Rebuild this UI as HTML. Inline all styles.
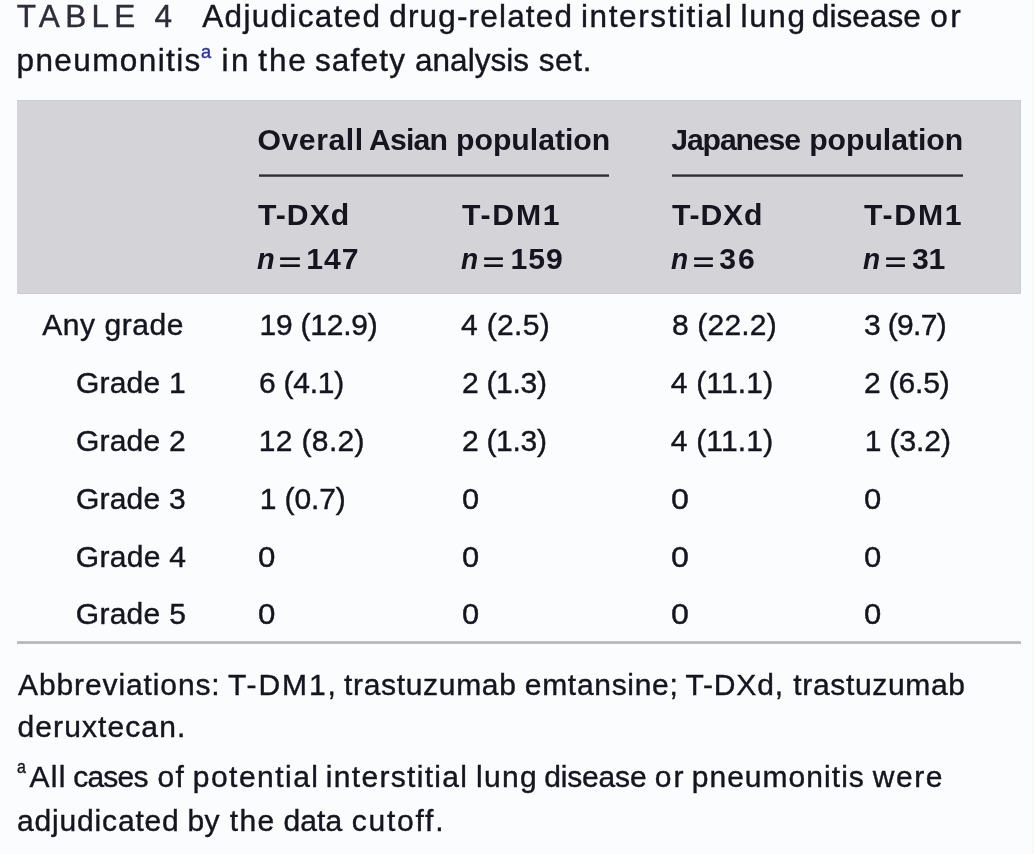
<!DOCTYPE html>
<html><head><meta charset="utf-8"><title>Table 4</title><style>
html,body{margin:0;padding:0;}
body{width:1034px;height:854px;background:#fbfcfe;position:relative;overflow:hidden;font-family:"Liberation Sans",sans-serif;color:#15141f;}
.t{position:absolute;white-space:nowrap;line-height:1;}
.r{-webkit-text-stroke:0.4px currentColor;}
.b{-webkit-text-stroke:0;}
.box{position:absolute;left:17px;top:100px;width:1004px;height:194px;background:#d3d3d8;box-shadow:inset 0 -1px 0 #c8c9cd, inset 0 1px 0 #cccdd1, inset -1px 0 0 #cbccd0;border-radius:0 0 2px 2px;}
.ln{position:absolute;top:174px;height:3px;background:linear-gradient(#6e6d74 0,#6e6d74 33%,#2f2e35 33%,#2f2e35 67%,#55545b 67%);}
.bl{position:absolute;left:17px;top:641px;width:1004px;height:3px;background:linear-gradient(#c4c5c8 0,#c4c5c8 33%,#b5b6b9 33%,#b5b6b9 67%,#bcbdc0 67%);}
.eq{position:absolute;height:3px;background:linear-gradient(#55545c 0,#55545c 20%,#121119 20%,#121119 100%);border-radius:1px;}
#wrap{position:absolute;left:0;top:0;width:1034px;height:854px;filter:blur(0.35px);}
.edge{position:absolute;left:1032px;top:0;width:2px;height:854px;background:#f8f9f4;}
</style></head><body><div id="wrap">
<div class="box"></div>
<div class="ln" style="left:259px;width:350px;"></div>
<div class="ln" style="left:672px;width:291px;"></div>
<div class="bl"></div>
<div class="edge"></div>
<div class="eq" style="left:280px;width:20px;top:257px"></div><div class="eq" style="left:280px;width:20px;top:263.5px"></div>
<div class="eq" style="left:484px;width:19px;top:257px"></div><div class="eq" style="left:484px;width:19px;top:263.5px"></div>
<div class="eq" style="left:694px;width:19px;top:257px"></div><div class="eq" style="left:694px;width:19px;top:263.5px"></div>
<div class="eq" style="left:886px;width:19px;top:257px"></div><div class="eq" style="left:886px;width:19px;top:263.5px"></div>
<div class="t r" style="left:16.7px;top:1.1px;font-size:31.5px;color:#302c3a;letter-spacing:5.27px;">TABLE 4</div>
<div class="t r" style="left:202.3px;top:1.1px;font-size:31.5px;letter-spacing:1.30px;">Adjudicated</div>
<div class="t r" style="left:389.2px;top:1.1px;font-size:31.5px;letter-spacing:1.18px;">drug-related</div>
<div class="t r" style="left:581.0px;top:1.1px;font-size:31.5px;letter-spacing:1.60px;">interstitial</div>
<div class="t r" style="left:740.6px;top:1.1px;font-size:31.5px;letter-spacing:1.60px;">lung</div>
<div class="t r" style="left:811.8px;top:1.1px;font-size:31.5px;letter-spacing:0.07px;">disease</div>
<div class="t r" style="left:930.3px;top:1.1px;font-size:31.5px;letter-spacing:2.40px;">or</div>
<div class="t r" style="left:16.5px;top:44.8px;font-size:31.5px;letter-spacing:1.40px;">pneumonitis</div>
<div class="t r" style="left:201.4px;top:41.6px;font-size:19px;color:#2a2fa8;transform:scaleX(0.960);transform-origin:0 0;">a</div>
<div class="t r" style="left:221.4px;top:44.8px;font-size:31.5px;letter-spacing:2.60px;">in</div>
<div class="t r" style="left:258.3px;top:44.8px;font-size:31.5px;letter-spacing:1.90px;">the</div>
<div class="t r" style="left:314.9px;top:44.8px;font-size:31.5px;letter-spacing:1.20px;">safety</div>
<div class="t r" style="left:415.0px;top:44.8px;font-size:31.5px;letter-spacing:0.03px;">analysis</div>
<div class="t r" style="left:538.7px;top:44.8px;font-size:31.5px;letter-spacing:0.67px;">set.</div>
<div class="t b" style="left:257.5px;top:124.6px;font-size:30.2px;font-weight:700;letter-spacing:0.53px;">Overall</div>
<div class="t b" style="left:369.0px;top:124.6px;font-size:30.2px;font-weight:700;letter-spacing:-0.80px;">Asian</div>
<div class="t b" style="left:456.0px;top:124.6px;font-size:30.2px;font-weight:700;">population</div>
<div class="t b" style="left:671.3px;top:124.6px;font-size:30.2px;font-weight:700;letter-spacing:-1.14px;">Japanese</div>
<div class="t b" style="left:809.2px;top:124.6px;font-size:30.2px;font-weight:700;letter-spacing:-0.04px;">population</div>
<div class="t b" style="left:258.0px;top:200.4px;font-size:30.2px;font-weight:700;letter-spacing:1.00px;">T-DXd</div>
<div class="t b" style="left:462.0px;top:200.4px;font-size:30.2px;font-weight:700;letter-spacing:1.75px;">T-DM1</div>
<div class="t b" style="left:672.0px;top:200.4px;font-size:30.2px;font-weight:700;letter-spacing:0.80px;">T-DXd</div>
<div class="t b" style="left:864.0px;top:200.4px;font-size:30.2px;font-weight:700;letter-spacing:1.75px;">T-DM1</div>
<div class="t b" style="left:257.3px;top:244.4px;font-size:30.2px;font-weight:700;font-style:italic;transform:scaleX(0.962);transform-origin:0 0;">n</div>
<div class="t b" style="left:306.3px;top:244.4px;font-size:30.2px;font-weight:700;letter-spacing:0.90px;">147</div>
<div class="t b" style="left:460.9px;top:244.4px;font-size:30.2px;font-weight:700;font-style:italic;transform:scaleX(0.931);transform-origin:0 0;">n</div>
<div class="t b" style="left:510.4px;top:244.4px;font-size:30.2px;font-weight:700;letter-spacing:1.00px;">159</div>
<div class="t b" style="left:670.9px;top:244.4px;font-size:30.2px;font-weight:700;font-style:italic;transform:scaleX(0.931);transform-origin:0 0;">n</div>
<div class="t b" style="left:719.3px;top:244.4px;font-size:30.2px;font-weight:700;letter-spacing:2.00px;">36</div>
<div class="t b" style="left:862.9px;top:244.4px;font-size:30.2px;font-weight:700;font-style:italic;transform:scaleX(0.931);transform-origin:0 0;">n</div>
<div class="t b" style="left:911.9px;top:244.4px;font-size:30.2px;font-weight:700;letter-spacing:-0.20px;">31</div>
<div class="t r" style="left:42.3px;top:310.4px;font-size:30px;letter-spacing:0.55px;">Any grade</div>
<div class="t r" style="left:259.5px;top:310.4px;font-size:30px;letter-spacing:-0.22px;">19 (12.9)</div>
<div class="t r" style="left:461.0px;top:310.4px;font-size:30px;letter-spacing:0.33px;">4 (2.5)</div>
<div class="t r" style="left:671.9px;top:310.4px;font-size:30px;letter-spacing:0.20px;">8 (22.2)</div>
<div class="t r" style="left:864.0px;top:310.4px;font-size:30px;letter-spacing:-0.67px;">3 (9.7)</div>
<div class="t r" style="left:76.0px;top:368.2px;font-size:30px;letter-spacing:0.20px;">Grade 1</div>
<div class="t r" style="left:258.9px;top:368.2px;font-size:30px;letter-spacing:-0.23px;">6 (4.1)</div>
<div class="t r" style="left:462.0px;top:368.2px;font-size:30px;letter-spacing:-0.30px;">2 (1.3)</div>
<div class="t r" style="left:670.8px;top:368.2px;font-size:30px;letter-spacing:0.17px;">4 (11.1)</div>
<div class="t r" style="left:863.9px;top:368.2px;font-size:30px;letter-spacing:-0.13px;">2 (6.5)</div>
<div class="t r" style="left:76.0px;top:426.0px;font-size:30px;letter-spacing:0.20px;">Grade 2</div>
<div class="t r" style="left:258.8px;top:426.0px;font-size:30px;letter-spacing:0.34px;">12 (8.2)</div>
<div class="t r" style="left:462.0px;top:426.0px;font-size:30px;letter-spacing:-0.30px;">2 (1.3)</div>
<div class="t r" style="left:670.8px;top:426.0px;font-size:30px;letter-spacing:0.17px;">4 (11.1)</div>
<div class="t r" style="left:864.7px;top:426.0px;font-size:30px;letter-spacing:-0.07px;">1 (3.2)</div>
<div class="t r" style="left:76.0px;top:483.8px;font-size:30px;letter-spacing:0.20px;">Grade 3</div>
<div class="t r" style="left:259.8px;top:483.8px;font-size:30px;letter-spacing:-0.13px;">1 (0.7)</div>
<div class="t r" style="left:462.0px;top:483.8px;font-size:30px;transform:scaleX(1.027);transform-origin:0 0;">0</div>
<div class="t r" style="left:671.4px;top:483.8px;font-size:30px;transform:scaleX(1.073);transform-origin:0 0;">0</div>
<div class="t r" style="left:863.9px;top:483.8px;font-size:30px;transform:scaleX(1.033);transform-origin:0 0;">0</div>
<div class="t r" style="left:75.8px;top:541.6px;font-size:30px;letter-spacing:0.30px;">Grade 4</div>
<div class="t r" style="left:258.0px;top:541.6px;font-size:30px;transform:scaleX(1.040);transform-origin:0 0;">0</div>
<div class="t r" style="left:462.0px;top:541.6px;font-size:30px;transform:scaleX(1.027);transform-origin:0 0;">0</div>
<div class="t r" style="left:671.4px;top:541.6px;font-size:30px;transform:scaleX(1.073);transform-origin:0 0;">0</div>
<div class="t r" style="left:863.9px;top:541.6px;font-size:30px;transform:scaleX(1.033);transform-origin:0 0;">0</div>
<div class="t r" style="left:75.8px;top:599.4px;font-size:30px;letter-spacing:0.27px;">Grade 5</div>
<div class="t r" style="left:258.0px;top:599.4px;font-size:30px;transform:scaleX(1.040);transform-origin:0 0;">0</div>
<div class="t r" style="left:462.0px;top:599.4px;font-size:30px;transform:scaleX(1.027);transform-origin:0 0;">0</div>
<div class="t r" style="left:671.4px;top:599.4px;font-size:30px;transform:scaleX(1.073);transform-origin:0 0;">0</div>
<div class="t r" style="left:863.9px;top:599.4px;font-size:30px;transform:scaleX(1.033);transform-origin:0 0;">0</div>
<div class="t r" style="left:18.0px;top:670.3px;font-size:30px;letter-spacing:0.89px;">Abbreviations:</div>
<div class="t r" style="left:227.9px;top:670.3px;font-size:30px;letter-spacing:1.92px;">T-DM1,</div>
<div class="t r" style="left:344.0px;top:670.3px;font-size:30px;letter-spacing:0.68px;">trastuzumab</div>
<div class="t r" style="left:524.8px;top:670.3px;font-size:30px;letter-spacing:0.69px;">emtansine;</div>
<div class="t r" style="left:685.5px;top:670.3px;font-size:30px;letter-spacing:0.84px;">T-DXd,</div>
<div class="t r" style="left:793.3px;top:670.3px;font-size:30px;letter-spacing:0.66px;">trastuzumab</div>
<div class="t r" style="left:17.5px;top:712.3px;font-size:30px;letter-spacing:1.10px;">deruxtecan.</div>
<div class="t r" style="left:16.8px;top:757.3px;font-size:19px;transform:scaleX(0.840);transform-origin:0 0;">a</div>
<div class="t r" style="left:29.6px;top:762.2px;font-size:30px;letter-spacing:1.20px;">All</div>
<div class="t r" style="left:73.2px;top:762.2px;font-size:30px;letter-spacing:-0.75px;">cases</div>
<div class="t r" style="left:157.5px;top:762.2px;font-size:30px;letter-spacing:1.40px;">of</div>
<div class="t r" style="left:192.8px;top:762.2px;font-size:30px;letter-spacing:1.47px;">potential</div>
<div class="t r" style="left:325.8px;top:762.2px;font-size:30px;letter-spacing:1.31px;">interstitial</div>
<div class="t r" style="left:475.9px;top:762.2px;font-size:30px;letter-spacing:1.33px;">lung</div>
<div class="t r" style="left:544.2px;top:762.2px;font-size:30px;letter-spacing:-0.17px;">disease</div>
<div class="t r" style="left:654.8px;top:762.2px;font-size:30px;letter-spacing:2.00px;">or</div>
<div class="t r" style="left:691.7px;top:762.2px;font-size:30px;letter-spacing:1.04px;">pneumonitis</div>
<div class="t r" style="left:872.7px;top:762.2px;font-size:30px;letter-spacing:1.60px;">were</div>
<div class="t r" style="left:17.1px;top:805.5px;font-size:30px;letter-spacing:0.82px;">adjudicated</div>
<div class="t r" style="left:187.6px;top:805.5px;font-size:30px;letter-spacing:0.20px;">by</div>
<div class="t r" style="left:229.8px;top:805.5px;font-size:30px;letter-spacing:1.30px;">the</div>
<div class="t r" style="left:283.6px;top:805.5px;font-size:30px;letter-spacing:0.07px;">data</div>
<div class="t r" style="left:351.7px;top:805.5px;font-size:30px;letter-spacing:1.77px;">cutoff.</div>
</div></body></html>
